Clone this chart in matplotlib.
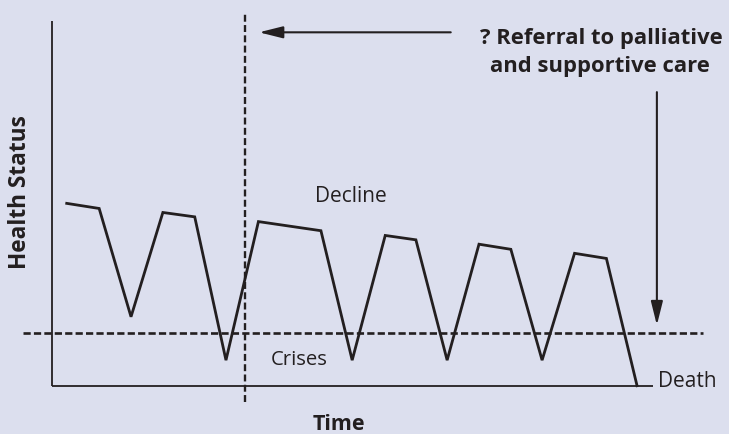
import matplotlib
matplotlib.use("Agg")
import matplotlib.pyplot as plt

# ---- data (time in % of illness trajectory, health status 0-100) ----
time = [2.5, 7.9, 13.2, 18.5, 23.8, 29.0, 34.4, 44.8, 50.0, 55.5, 60.6,
        65.8, 71.1, 76.4, 81.6, 87.0, 92.3, 97.4]
health = [50.0, 48.6, 18.9, 47.5, 46.3, 7.0, 45.0, 42.5, 7.0, 41.2, 40.0,
          7.0, 38.8, 37.4, 7.0, 36.3, 34.9, 0.0]
crisis_threshold = 14.5
referral_time = 32.2

ylabel = "Health Status"
xlabel = "Time"
decline_label = "Decline"
crises_label = "Crises"
death_label = "Death"
referral_lines = ["? Referral to palliative", "and supportive care"]

BG = "#dcdfee"
INK = "#231f20"
plt.rcParams["lines.scale_dashes"] = False
FONT = ["Open Sans", "DejaVu Sans"]

fig = plt.figure(figsize=(7.29, 4.34), dpi=100, facecolor=BG)
ax = fig.add_axes([0, 0, 1, 1])
ax.set_facecolor(BG)
ax.set_xlim(-8.60, 112.70)
ax.set_ylim(-13.24, 105.76)
ax.axis("off")

# axes lines
ax.plot([0, 0], [0, 100], color=INK, lw=1.3, solid_capstyle="butt")
ax.plot([0, 100], [0, 0], color=INK, lw=1.3, solid_capstyle="butt")

# dashed reference lines
ax.plot([referral_time, referral_time], [-4.4, 102.4], color=INK, lw=1.7,
        dashes=(5.0, 2.4))
ax.plot([-4.8, 108.4], [crisis_threshold, crisis_threshold], color=INK, lw=1.9,
        dashes=(5.2, 2.3))

# health trajectory
ax.plot(time, health, color=INK, lw=2.0, solid_joinstyle="miter")

# arrows
arrow_kw = dict(arrowstyle="-|>,head_length=1.2,head_width=0.3",
                color=INK, lw=1.5, shrinkA=0, shrinkB=0, mutation_scale=12)
ax.annotate("", xy=(34.5, 96.9), xytext=(66.4, 96.9), arrowprops=arrow_kw)
ax.annotate("", xy=(100.7, 16.6), xytext=(100.7, 80.5), arrowprops=arrow_kw)

# texts
ax.text(91.5, 93.6, referral_lines[0], ha="center", va="baseline",
        fontsize=15.8, fontweight="bold", family=FONT, color=INK)
ax.text(91.3, 85.9, referral_lines[1], ha="center", va="baseline",
        fontsize=15.8, fontweight="bold", family=FONT, color=INK)
ax.text(49.8, 50.4, decline_label, ha="center", va="baseline",
        fontsize=15, family=FONT, color=INK)
ax.text(41.1, 5.7, crises_label, ha="center", va="baseline",
        fontsize=14.6, family=FONT, color=INK)
ax.text(100.9, -0.3, death_label, ha="left", va="baseline",
        fontsize=15, family=FONT, color=INK)
ax.text(47.8, -12.2, xlabel, ha="center", va="baseline",
        fontsize=15.5, fontweight="bold", family=FONT, color=INK)
ax.text(-5.27, 53.1, ylabel, ha="center", va="center",
        rotation=90, fontsize=16.3, fontweight="bold", family=FONT, color=INK)

fig.savefig("out.png", dpi=100, facecolor=BG)
